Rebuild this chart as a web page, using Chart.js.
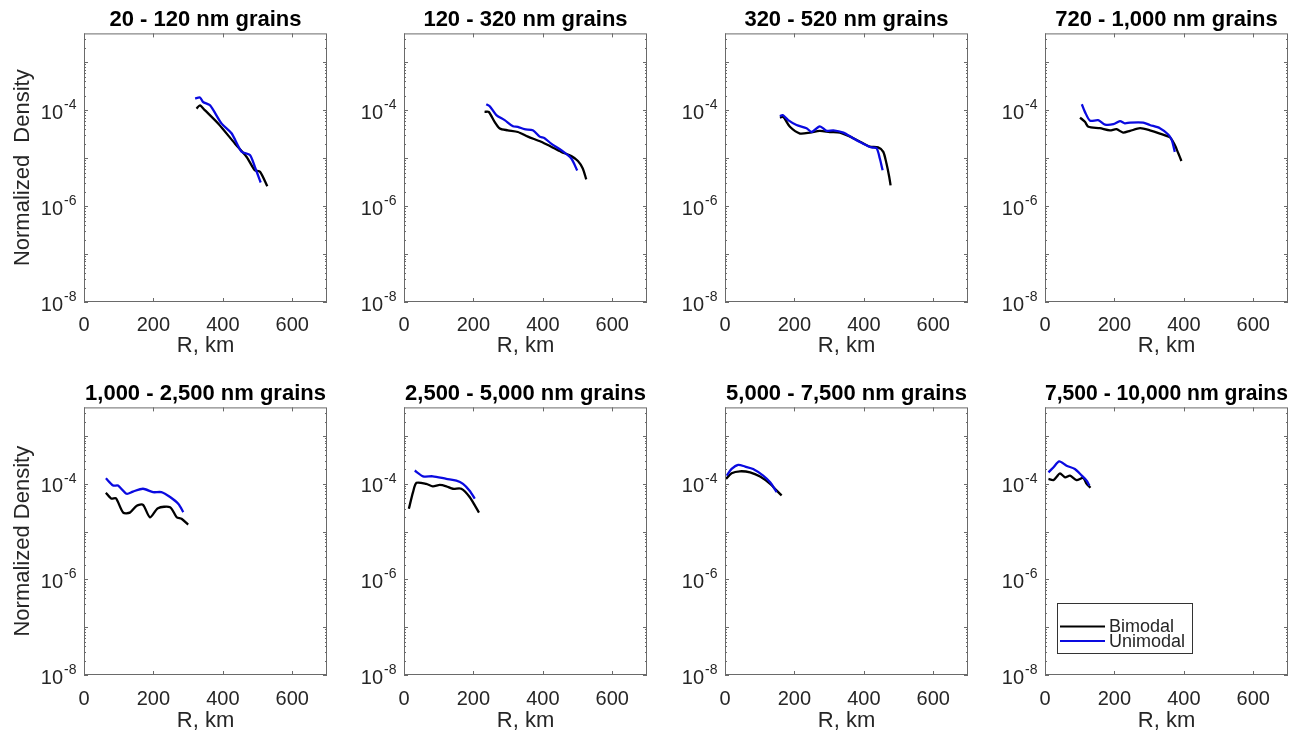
<!DOCTYPE html>
<html>
<head>
<meta charset="utf-8">
<title>Normalized density vs R by grain size</title>
<script src="https://cdn.jsdelivr.net/npm/chart.js@4.4.1/dist/chart.umd.min.js"></script>
<style>
  html, body { margin: 0; padding: 0; background: #fff; }
  #grid { position: relative; width: 1309px; height: 738px; overflow: hidden; }
  #grid canvas { position: absolute; }
</style>
</head>
<body>
<div id="grid"></div>
<script>
// grain size bins, one panel each
const grainTitles = [
  '20 - 120 nm grains', '120 - 320 nm grains', '320 - 520 nm grains', '720 - 1,000 nm grains',
  '1,000 - 2,500 nm grains', '2,500 - 5,000 nm grains', '5,000 - 7,500 nm grains', '7,500 - 10,000 nm grains'
];

// R (km) and normalized density for each bin
const bimodalR1 = [324, 334, 348, 387, 435, 468, 492, 507, 528];
const bimodalD1 = [1.08e-4, 1.26e-4, 1.0e-4, 5.2e-5, 2.0e-5, 1.07e-5, 5.6e-6, 5.2e-6, 2.6e-6];
const unimodalR1 = [320, 334, 343, 363, 396, 425, 454, 478, 492, 509];
const unimodalD1 = [1.75e-4, 1.84e-4, 1.48e-4, 1.26e-4, 5.3e-5, 3.3e-5, 1.36e-5, 1.16e-5, 6.6e-6, 3.1e-6];

const bimodalR2 = [232, 244, 261, 276, 299, 328, 357, 395, 424, 453, 482, 501, 515, 525];
const bimodalD2 = [9.2e-5, 9.2e-5, 5.7e-5, 4.15e-5, 3.8e-5, 3.5e-5, 2.8e-5, 2.2e-5, 1.73e-5, 1.35e-5, 1.1e-5, 8.7e-6, 6.1e-6, 3.6e-6];
const unimodalR2 = [237, 247, 266, 290, 314, 328, 347, 371, 391, 405, 424, 453, 482, 499];
const unimodalD2 = [1.33e-4, 1.21e-4, 7.9e-5, 6.2e-5, 4.6e-5, 4.5e-5, 4.0e-5, 3.8e-5, 2.8e-5, 2.6e-5, 2.0e-5, 1.47e-5, 9.8e-6, 5.5e-6];

const bimodalR3 = [158, 168, 187, 216, 245, 273, 302, 331, 360, 389, 417, 441, 456, 465, 473, 477];
const bimodalD3 = [7.0e-5, 7.2e-5, 4.5e-5, 3.25e-5, 3.4e-5, 3.7e-5, 3.5e-5, 3.4e-5, 2.8e-5, 2.2e-5, 1.73e-5, 1.67e-5, 1.35e-5, 7.8e-6, 4.1e-6, 2.7e-6];
const unimodalR3 = [158, 166, 182, 206, 235, 250, 273, 293, 312, 341, 369, 398, 422, 437, 446, 454];
const unimodalD3 = [7.5e-5, 7.9e-5, 6.2e-5, 4.9e-5, 4.2e-5, 3.5e-5, 4.6e-5, 3.7e-5, 3.8e-5, 3.4e-5, 2.6e-5, 2.0e-5, 1.67e-5, 1.6e-5, 9.8e-6, 5.6e-6];

const bimodalR4 = [101, 115, 125, 158, 187, 206, 225, 245, 274, 302, 331, 360, 374, 384, 393];
const bimodalD4 = [7.0e-5, 5.7e-5, 4.5e-5, 4.2e-5, 3.8e-5, 4.0e-5, 3.4e-5, 3.7e-5, 4.2e-5, 3.8e-5, 3.25e-5, 2.7e-5, 1.87e-5, 1.26e-5, 8.7e-6];
const unimodalR4 = [106, 115, 130, 153, 173, 197, 216, 230, 245, 283, 302, 331, 355, 365, 374];
const unimodalD4 = [1.33e-4, 9.2e-5, 6.0e-5, 6.2e-5, 5.0e-5, 5.1e-5, 5.9e-5, 5.3e-5, 5.5e-5, 5.5e-5, 4.9e-5, 4.2e-5, 3.1e-5, 2.4e-5, 1.35e-5];

const bimodalR5 = [63, 79, 92, 113, 132, 152, 170, 190, 213, 248, 267, 281, 300];
const bimodalD5 = [6.5e-5, 4.9e-5, 5.0e-5, 2.5e-5, 2.5e-5, 3.5e-5, 3.65e-5, 2.0e-5, 3.1e-5, 3.25e-5, 2.0e-5, 1.86e-5, 1.4e-5];
const unimodalR5 = [63, 84, 98, 123, 141, 170, 199, 223, 248, 272, 286];
const unimodalD5 = [1.31e-4, 9.2e-5, 9.2e-5, 6.2e-5, 6.9e-5, 7.9e-5, 6.7e-5, 6.7e-5, 5.3e-5, 3.8e-5, 2.57e-5];

const bimodalR6 = [14, 26, 36, 64, 83, 103, 122, 141, 165, 189, 216];
const bimodalD6 = [3.0e-5, 6.7e-5, 1.05e-4, 1.0e-4, 8.9e-5, 9.5e-5, 8.9e-5, 7.9e-5, 7.9e-5, 5.3e-5, 2.5e-5];
const unimodalR6 = [31, 55, 83, 122, 151, 170, 189, 204];
const unimodalD6 = [1.9e-4, 1.44e-4, 1.44e-4, 1.27e-4, 1.17e-4, 1.0e-4, 7.2e-5, 4.9e-5];

const bimodalR7 = [3, 19, 43, 72, 101, 130, 149, 163];
const bimodalD7 = [1.27e-4, 1.66e-4, 1.83e-4, 1.74e-4, 1.42e-4, 1.0e-4, 7.2e-5, 5.7e-5];
const unimodalR7 = [5, 19, 38, 58, 81, 110, 130, 149];
const unimodalD7 = [1.49e-4, 2.05e-4, 2.5e-4, 2.3e-4, 2.05e-4, 1.49e-4, 1.08e-4, 6.7e-5];

const bimodalR8 = [10, 24, 34, 43, 58, 72, 91, 110, 120, 131];
const bimodalD8 = [1.27e-4, 1.2e-4, 1.42e-4, 1.66e-4, 1.37e-4, 1.49e-4, 1.2e-4, 1.33e-4, 1.0e-4, 8.3e-5];
const unimodalR8 = [10, 24, 41, 62, 86, 106, 120, 128];
const unimodalD8 = [1.74e-4, 2.2e-4, 2.95e-4, 2.4e-4, 2.05e-4, 1.49e-4, 1.17e-4, 9.2e-5];

const xTicks = [0, 200, 400, 600];
const yTicks = [1e-8, 1e-6, 1e-4];

const panels = [
  [bimodalR1, bimodalD1, unimodalR1, unimodalD1],
  [bimodalR2, bimodalD2, unimodalR2, unimodalD2],
  [bimodalR3, bimodalD3, unimodalR3, unimodalD3],
  [bimodalR4, bimodalD4, unimodalR4, unimodalD4],
  [bimodalR5, bimodalD5, unimodalR5, unimodalD5],
  [bimodalR6, bimodalD6, unimodalR6, unimodalD6],
  [bimodalR7, bimodalD7, unimodalR7, unimodalD7],
  [bimodalR8, bimodalD8, unimodalR8, unimodalD8]
];

const ink = '#262626';
const frameGrey = '#6a6a6a';
const family = "'Liberation Sans', Arial, Helvetica, sans-serif";
Chart.defaults.font.family = family;

const colLeft = [84, 404, 725, 1045];
const rows = [
  { top: 0, height: 370, titlePad: 7, tickPad: 11, xTitlePad: 11, xAxisH: 68 },
  { top: 370, height: 368, titlePad: 11, tickPad: 12, xTitlePad: 4, xAxisH: 63 }
];
const yAxisW = 84;
const plotW = 243;
const baseGap = 21;   // room left of the axis for the exponent

const toPoints = (rs, ds) => rs.map((r, i) => ({ x: r, y: ds[i] }));

// box round the axes plus inward tick marks on all four sides
const frame = {
  id: 'frame',
  afterDatasetsDraw(chart) {
    const { ctx, chartArea: a, scales: { x, y } } = chart;
    ctx.save();
    ctx.strokeStyle = frameGrey;
    ctx.lineWidth = 1;
    ctx.strokeRect(a.left + 0.5, a.top + 0.5, a.width - 1, a.height - 1);
    ctx.beginPath();
    xTicks.forEach(v => {
      const px = Math.round(x.getPixelForValue(v)) + 0.5;
      ctx.moveTo(px, a.bottom); ctx.lineTo(px, a.bottom - 4);
      ctx.moveTo(px, a.top); ctx.lineTo(px, a.top + 4);
    });
    for (let e = -8; e <= -3; e++) {
      for (let m = 1; m <= 9; m++) {
        const v = m * Math.pow(10, e);
        if (v > y.max) break;
        const py = Math.round(y.getPixelForValue(v)) + 0.5;
        const len = m === 1 ? 4 : 2;
        ctx.moveTo(a.left, py); ctx.lineTo(a.left + len, py);
        ctx.moveTo(a.right, py); ctx.lineTo(a.right - len, py);
      }
    }
    ctx.stroke();
    ctx.restore();
  }
};

// raised exponent next to each "10" tick label on the y axis
const exponents = {
  id: 'exponents',
  afterDraw(chart) {
    const { ctx, chartArea: a, scales: { y } } = chart;
    ctx.save();
    ctx.font = '14px ' + family;
    ctx.fillStyle = ink;
    ctx.textAlign = 'left';
    ctx.textBaseline = 'middle';
    y.ticks.forEach(t => {
      const py = y.getPixelForValue(t.value);
      ctx.fillText(String(Math.round(Math.log10(t.value))), a.left - baseGap + 1, py - 5);
    });
    ctx.restore();
  }
};

// series key drawn in the lower-left corner of the last panel
const keyBox = {
  id: 'keyBox',
  afterDraw(chart, args, opts) {
    if (!opts.show) return;
    const { ctx, chartArea: a } = chart;
    const bx = a.left + 12, by = a.bottom - 72, w = 135, h = 50;
    ctx.save();
    ctx.fillStyle = '#fff';
    ctx.fillRect(bx, by, w, h);
    ctx.strokeStyle = '#333';
    ctx.lineWidth = 1;
    ctx.strokeRect(bx + 0.5, by + 0.5, w, h);
    ctx.font = '18px ' + family;
    ctx.textBaseline = 'middle';
    ctx.textAlign = 'left';
    chart.data.datasets.forEach((ds, i) => {
      const ly = by + 23.5 + i * 14.5;
      ctx.strokeStyle = ds.borderColor;
      ctx.lineWidth = 2.2;
      ctx.beginPath();
      ctx.moveTo(bx + 3, ly); ctx.lineTo(bx + 48, ly);
      ctx.stroke();
      ctx.fillStyle = ink;
      ctx.fillText(ds.label, bx + 52, ly + 1);
    });
    ctx.restore();
  }
};

const grid = document.getElementById('grid');

panels.forEach((p, idx) => {
  const col = idx % 4;
  const row = rows[Math.floor(idx / 4)];
  const canvas = document.createElement('canvas');
  const cw = yAxisW + plotW + 6;
  canvas.width = cw;
  canvas.height = row.height;
  canvas.style.left = (colLeft[col] - yAxisW) + 'px';
  canvas.style.top = row.top + 'px';
  canvas.style.width = cw + 'px';
  canvas.style.height = row.height + 'px';
  grid.appendChild(canvas);

  new Chart(canvas, {
    type: 'line',
    data: {
      datasets: [
        { label: 'Bimodal', data: toPoints(p[0], p[1]), borderColor: '#000000', order: 1 },
        { label: 'Unimodal', data: toPoints(p[2], p[3]), borderColor: '#0a0ae0', order: 0 }
      ]
    },
    options: {
      responsive: false,
      animation: false,
      devicePixelRatio: 1,
      layout: { padding: { left: 0, right: 6, top: 0, bottom: 0 } },
      elements: {
        line: { borderWidth: 2.3, tension: 0.25, fill: false },
        point: { radius: 0 }
      },
      plugins: {
        legend: { display: false },
        tooltip: { enabled: false },
        title: {
          display: true,
          text: grainTitles[idx],
          fullSize: false,
          color: '#000',
          font: { size: 22, weight: 'bold' },
          padding: { top: row.titlePad, bottom: 0 }
        },
        keyBox: { show: idx === 7 }
      },
      scales: {
        x: {
          type: 'linear',
          min: 0,
          max: 700,
          afterBuildTicks: s => { s.ticks = xTicks.map(v => ({ value: v })); },
          afterFit: s => { s.height = row.xAxisH; },
          grid: { display: false, drawTicks: false },
          border: { display: false },
          ticks: { padding: row.tickPad, color: ink, font: { size: 20 }, maxRotation: 0, autoSkip: false },
          title: { display: true, text: 'R, km', color: ink, font: { size: 22 }, padding: { top: 0, bottom: row.xTitlePad } }
        },
        y: {
          type: 'logarithmic',
          min: 1e-8,
          max: Math.pow(10, -2.4),
          afterBuildTicks: s => { s.ticks = yTicks.map(v => ({ value: v })); },
          afterFit: s => { s.width = yAxisW; },
          grid: { display: false, drawTicks: false },
          border: { display: false },
          ticks: { padding: baseGap, labelOffset: 3, color: ink, font: { size: 20 }, autoSkip: false, callback: () => '10' },
          title: {
            display: col === 0,
            text: idx === 0 ? 'Normalized  Density' : 'Normalized Density',
            color: ink,
            font: { size: 22 },
            padding: { top: 10, bottom: 0 }
          }
        }
      }
    },
    plugins: [frame, exponents, keyBox]
  });
});
</script>
</body>
</html>
